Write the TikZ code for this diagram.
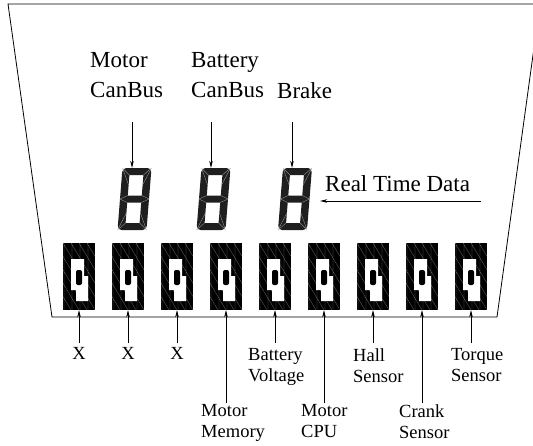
\documentclass[tikz,border=0pt]{standalone}
\usepackage{fontspec}
\setmainfont{Liberation Serif}
\usetikzlibrary{arrows.meta}

\tikzset{
  lbl/.style={inner sep=0pt, font=\fontsize{23}{30}\selectfont, align=left},
  sublbl/.style={inner sep=0pt, font=\fontsize{18.5}{21.5}\selectfont, align=left},
  arr/.style={line width=0.6pt, -{Stealth[length=7pt,width=3.5pt]}},
  bigdig/.style={minimum width=34pt, minimum height=62pt, inner sep=0pt},
  smalldig/.style={minimum width=32pt, minimum height=67pt, inner sep=0pt},
  segline/.style={gray!70, line width=0.3pt},
  hatch/.style={black!55, line width=0.25pt},
}

% slanted seven segment digit, all segments on
\newcommand{\bigdigit}[1]{%
  \begin{scope}[shift={(#1.center)}, xslant=0.08]
    \fill[black!88, even odd rule]
      [rounded corners=4pt] (-14.5,-31) -- (14.5,-31) -- (14.5,31) -- (-14.5,31) -- cycle
      [sharp corners] (-7,-24) -- (7,-24) -- (7,-3.5) -- (-7,-3.5) -- cycle
      (-7,3.5) -- (7,3.5) -- (7,24) -- (-7,24) -- cycle;
    \draw[segline] (-14,-30.5) -- (-7,-24) (14,-30.5) -- (7,-24)
      (-14,30.5) -- (-7,24) (14,30.5) -- (7,24)
      (-7,-3.5) -- (-14.5,0) -- (-7,3.5) (7,-3.5) -- (14.5,0) -- (7,3.5)
      (-14.5,-31) -- (-7,-14) (14.5,-31) -- (7,-14)
      (-14.5,31) -- (-7,14) (14.5,31) -- (7,14);
  \end{scope}}

% small dot matrix digit
\newcommand{\smalldigit}[1]{%
  \begin{scope}[shift={(#1.center)}]
    \fill[black] (-16,-33.5) -- (16,-33.5) -- (16,33.5) -- (-16,33.5) -- cycle;
    \foreach \cx in {-16,-8,0,8}
      \foreach \ry in {-33.5,-20.1,-6.7,6.7,20.1}
        \draw[hatch] (\cx,\ry) -- (\cx+8,\ry+13.4) (\cx+1,\ry) -- (\cx+1,\ry+13.4);
    \fill[white] (-8,-17.5) -- (5,-17.5) -- (5,-0.5) -- (9,-0.5) -- (9,24.5)
      -- (-3,24.5) -- (-3,13.5) -- (-8,13.5) -- cycle;
    \fill[black, rounded corners=2pt] (-3,-6.5) -- (3,-6.5) -- (3,8.5) -- (-3,8.5) -- cycle;
  \end{scope}}

\begin{document}
\begin{tikzpicture}[x=1pt, y=-1pt]
  \path[use as bounding box, clip] (0,0) rectangle (533,445);

  % panel outline
  \draw[line width=0.8pt] (8,4) -- (540,4) -- (497,317) -- (52,317) -- cycle;

  % real time digits
  \node[bigdig] (d1) at (134.5,199) {};
  \node[bigdig] (d2) at (213.5,199) {};
  \node[bigdig] (d3) at (295,199) {};
  \foreach \i in {1,2,3} \bigdigit{d\i};

  \node[lbl, anchor=north west] (mcan) at (90,52) {Motor\\CanBus};
  \node[lbl, anchor=north west] (bcan) at (191,52) {Battery\\CanBus};
  \node[lbl, anchor=north west] (brk) at (277,82) {Brake};
  \node[lbl, anchor=north west] (rtd) at (325,175) {Real Time Data};

  \coordinate (t1) at (132,122);
  \coordinate (t2) at (211,122);
  \coordinate (t3) at (292,122);
  \draw[arr] (t1) -- (t1 |- d1.north);
  \draw[arr] (t2) -- (t2 |- d2.north);
  \draw[arr] (t3) -- (t3 |- d3.north);

  \coordinate (r0) at (481,201);
  \draw[arr, shorten >=8pt] (r0) -- (r0 -| d3.east);

  % error code digits
  \foreach \i/\xx in {1/79,2/128,3/177,4/226,5/275,6/324,7/373,8/422,9/471}
    \node[smalldig] (s\i) at (\xx,276.5) {};
  \foreach \i in {1,...,9} \smalldigit{s\i};

  \node[sublbl, anchor=north] (x1) at (79,347) {X};
  \node[sublbl, anchor=north] (x2) at (128,347) {X};
  \node[sublbl, anchor=north] (x3) at (177,347) {X};
  \node[sublbl, anchor=north west] (mmem) at (201,404) {Motor\\Memory};
  \node[sublbl, anchor=north west] (bvol) at (248,348) {Battery\\Voltage};
  \node[sublbl, anchor=north west] (mcpu) at (301,404) {Motor\\CPU};
  \node[sublbl, anchor=north west] (hall) at (353,348) {Hall\\Sensor};
  \node[sublbl, anchor=north west] (crank) at (399,404) {Crank\\Sensor};
  \node[sublbl, anchor=north west] (torq) at (451,348) {Torque\\Sensor};

  \foreach \i/\xx/\yy in {1/79/343,2/128/343,3/177/343,4/226/403,5/275/343,
                          6/324/403,7/373/343,8/422/403,9/471/343}
    \coordinate (b\i) at (\xx,\yy);
  \foreach \i in {1,...,9} \draw[arr] (b\i) -- (s\i.south);
\end{tikzpicture}
\end{document}
